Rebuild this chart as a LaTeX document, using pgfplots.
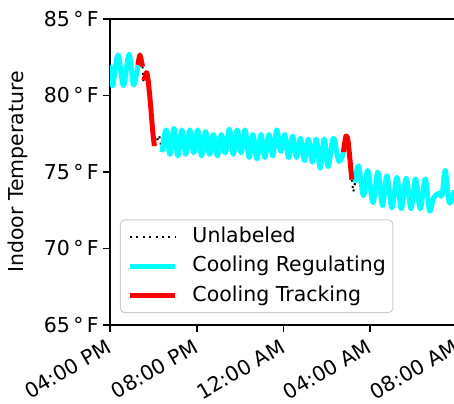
\documentclass[border=0pt]{standalone}
\usepackage{fontspec}
\setmainfont{DejaVu Sans}
\usepackage{pgfplots}
\pgfplotsset{compat=1.18}
\definecolor{mcyan}{rgb}{0,1,1}
\definecolor{mred}{rgb}{1,0,0}
\begin{document}
\begin{tikzpicture}[font=\fontsize{20.5bp}{24bp}\selectfont]
\useasboundingbox (-110bp,-79bp) rectangle (344bp,325bp);
\begin{axis}[
  scale only axis, width=347bp, height=306bp,
  at={(0,0)}, anchor=south west,
  xmin=16, xmax=32, ymin=65, ymax=85,
  xtick={16,20,24,28,32},
  xticklabels={04:00 PM,08:00 PM,12:00 AM,04:00 AM,08:00 AM},
  ytick={65,70,75,80,85},
  yticklabels={65\,°\,F,70\,°\,F,75\,°\,F,80\,°\,F,85\,°\,F},
  tick pos=left, tick align=outside, major tick length=7bp,
  axis line style={line width=1.6bp},
  every tick/.style={black, line width=1.6bp},
  xticklabel style={rotate=30, anchor=north east, inner sep=2bp, xshift=-5bp, yshift=-1bp},
  yticklabel style={inner sep=4bp},
  ylabel={Indoor Temperature},
  ylabel style={at={(axis description cs:-0.265,0.5)}, anchor=center},
  legend style={at={(axis description cs:0,0)}, anchor=south west, xshift=10bp, yshift=12bp,
    draw=black!20, line width=1bp, rounded corners=4bp, fill=white, fill opacity=0.8, text opacity=1,
    inner xsep=7bp, inner ysep=7bp, row sep=10bp, column sep=15bp,
    nodes={inner sep=0pt, text height=15bp, text depth=4.5bp}},
  legend cell align=left,
  legend image code/.code={\draw[#1] (0bp,0bp) -- (45bp,0bp);},
  no markers, line join=round,
]
% Unlabeled (dotted)
\addplot[black, line width=2bp, dash pattern=on 2bp off 4.4bp] coordinates {(17.50,81.9) (17.55,80.8)};
\addlegendentry{Unlabeled}
% Cooling Regulating
\addplot[mcyan, line width=5bp, smooth, tension=0.6] coordinates {
(16.0,82.0) (16.12,80.65) (16.37,82.65) (16.62,80.65) (16.88,82.7) (17.08,80.7) (17.29,82.0)};
\addlegendentry{Cooling Regulating}
% Cooling Tracking
\addplot[mred, line width=5bp, smooth, tension=0.4] coordinates {(17.29,82.0) (17.38,82.65) (17.50,81.9)};
\addlegendentry{Cooling Tracking}

\addplot[black, line width=2bp, dash pattern=on 2bp off 4.4bp, forget plot] coordinates {(18.05,76.7) (18.27,77.4) (18.40,76.3)};
\addplot[black, line width=2bp, dash pattern=on 2bp off 4.4bp, forget plot] coordinates {(27.15,74.5) (27.22,73.7) (27.30,74.3)};

\addplot[mcyan, line width=5bp, smooth, tension=0.6, forget plot] coordinates {
(18.40,76.3) (18.584,77.75) (18.766,76.15) (18.949,77.85) (19.131,76.05) (19.313,77.75) (19.495,76.15)
(19.678,77.75) (19.860,76.25) (20.042,77.75) (20.224,76.05) (20.407,77.65) (20.589,76.15) (20.772,77.45)
(20.954,76.05) (21.136,77.45) (21.318,76.25) (21.501,77.8) (21.683,76.15) (21.865,77.75) (22.047,76.25)
(22.230,77.75) (22.412,75.95) (22.594,77.45) (22.776,75.85) (22.959,77.45) (23.141,75.95) (23.324,77.45)
(23.506,76.05) (23.688,77.75) (23.870,76.35) (24.053,77.45) (24.235,75.95) (24.417,77.35) (24.599,75.95)
(24.782,77.2) (24.964,75.75) (25.146,77.15) (25.328,75.65) (25.511,77.15) (25.693,75.25) (25.876,77.15)
(26.058,75.35) (26.30,77.2) (26.55,75.7) (26.76,76.3)};
\addplot[mcyan, line width=5bp, smooth, tension=0.6, forget plot] coordinates {
(27.30,74.3) (27.458,75.4) (27.689,73.45) (27.888,75.1) (28.123,73.0) (28.353,75.0) (28.565,72.8)
(28.769,74.75) (29.0,72.65) (29.23,74.65) (29.43,72.6) (29.66,74.6) (29.877,72.6) (30.089,74.55)
(30.306,72.6) (30.536,74.55) (30.735,72.45) (30.92,73.3) (31.15,73.6) (31.31,73.5) (31.46,75.1)
(31.645,73.0) (31.875,73.8)};

\addplot[mred, line width=5bp, smooth, tension=0.4, forget plot] coordinates {
(17.57,81.0) (17.68,81.5) (17.75,81.1) (17.85,79.7) (17.98,77.5) (18.05,76.7)};
\addplot[mred, line width=5bp, smooth, tension=0.4, forget plot] coordinates {
(26.76,76.3) (26.88,77.35) (26.98,77.0) (27.15,74.5)};
\end{axis}
\end{tikzpicture}
\end{document}
